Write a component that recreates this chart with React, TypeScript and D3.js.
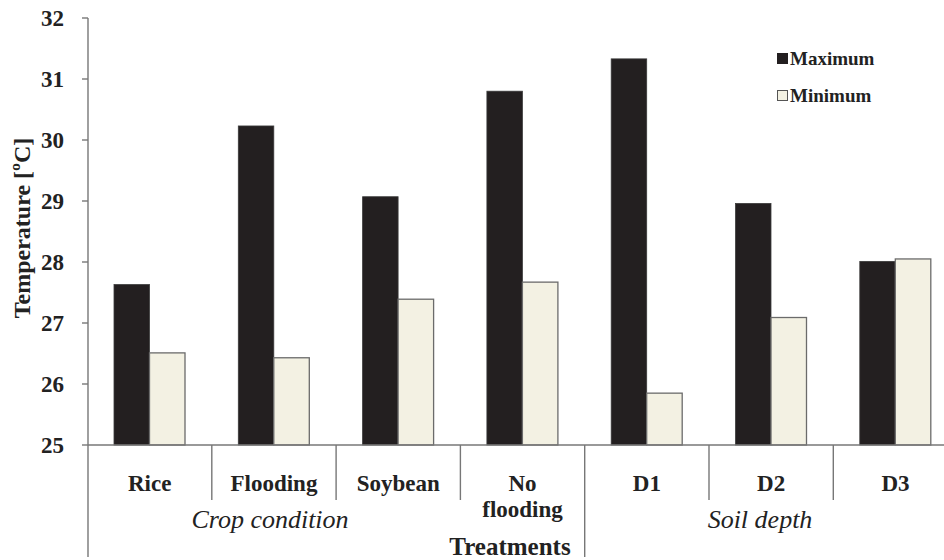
import * as d3 from "d3";
import React from "react";

const categories = ["Rice", "Flooding", "Soybean", "No flooding", "D1", "D2", "D3"];
const maximum = [27.63, 30.23, 29.07, 30.8, 31.33, 28.96, 28.01];
const minimum = [26.51, 26.43, 27.39, 27.67, 25.85, 27.09, 28.05];
const yTicks = [25, 26, 27, 28, 29, 30, 31, 32];
const groups = [
    { label: "Crop condition", x: 270 },
    { label: "Soil depth", x: 760 },
];

const W = 944;
const H = 560;
const axisX = 88;
const baseY = 445;
const font = "\"Nimbus Roman\", \"Tinos\", \"FreeSerif\", \"Liberation Serif\"";

function App() {
    const y = d3.scaleLinear().domain([25, 32]).range([baseY, 18]);
    const x = d3.scaleBand<string>()
        .domain(categories)
        .range([axisX - 0.5, axisX - 0.5 + 124.3 * 7]);
    const inner = d3.scaleBand<string>()
        .domain(["max", "min"])
        .range([26.5, 26.5 + 71]);

    const axisColor = "#777";
    const t = (size: number, extra: React.CSSProperties = {}) => ({
        fontFamily: font,
        fontWeight: "bold" as const,
        fontSize: size,
        fill: "#222",
        ...extra,
    });

    return (
        <div style={{ position: "absolute", left: 0, top: 0, width: W, height: H, fontFamily: font }}>
            <svg width={W} height={H} style={{ display: "block", background: "#fff" }}>
                {/* bars */}
                {categories.map((c, i) => (
                    <g key={c}>
                        <rect
                            x={(x(c) || 0) + (inner("max") || 0)}
                            y={y(maximum[i])}
                            width={inner.bandwidth()}
                            height={baseY - y(maximum[i])}
                            fill="#231f20"
                            stroke="#3a3a3a"
                            strokeWidth={0.8}
                        />
                        <rect
                            x={(x(c) || 0) + (inner("min") || 0)}
                            y={y(minimum[i])}
                            width={inner.bandwidth()}
                            height={baseY - y(minimum[i])}
                            fill="#f3f1e3"
                            stroke="#6b6b6b"
                            strokeWidth={1.3}
                        />
                    </g>
                ))}

                {/* y axis */}
                <line x1={axisX} x2={axisX} y1={y(32)} y2={557} stroke={axisColor} strokeWidth={1.4} />
                {yTicks.map(v => (
                    <g key={v}>
                        <line x1={axisX - 6} x2={axisX} y1={y(v)} y2={y(v)} stroke={axisColor} strokeWidth={1.4} />
                        <text x={64} y={y(v) + 8} textAnchor="end" style={t(23)}>
                            {v}
                        </text>
                    </g>
                ))}
                <text transform="translate(30, 228) rotate(-90)" textAnchor="middle" style={t(24)}>
                    Temperature [ºC]
                </text>

                {/* x baseline and separators */}
                <line x1={axisX} x2={W} y1={baseY} y2={baseY} stroke={axisColor} strokeWidth={1.4} />
                {categories.slice(1).map(c => (
                    <line
                        key={c}
                        x1={x(c) || 0}
                        x2={x(c) || 0}
                        y1={baseY}
                        y2={c === "D1" ? 557 : 500}
                        stroke={axisColor}
                        strokeWidth={1.4}
                    />
                ))}

                {/* category labels */}
                {categories.map(c => {
                    const cx = (x(c) || 0) + x.bandwidth() / 2;
                    const lines = c === "No flooding" ? ["No", "flooding"] : [c];
                    return lines.map((l, k) => (
                        <text key={c + k} x={cx} y={491 + k * 26} textAnchor="middle" style={t(23)}>
                            {l}
                        </text>
                    ));
                })}

                {groups.map(g => (
                    <text
                        key={g.label}
                        x={g.x}
                        y={528}
                        textAnchor="middle"
                        style={t(26, { fontStyle: "italic", fontWeight: "normal" })}
                    >
                        {g.label}
                    </text>
                ))}

                <text x={510} y={555} textAnchor="middle" style={t(25)}>
                    Treatments
                </text>

                {/* legend */}
                <rect x={777} y={53} width={11} height={11} fill="#231f20" />
                <text x={790} y={65} style={t(19)}>
                    Maximum
                </text>
                <rect x={777.5} y={90.5} width={10} height={10} fill="#f3f1e3" stroke="#555" strokeWidth={1} />
                <text x={790} y={102} style={t(19)}>
                    Minimum
                </text>
            </svg>
        </div>
    );
}

export default App;
